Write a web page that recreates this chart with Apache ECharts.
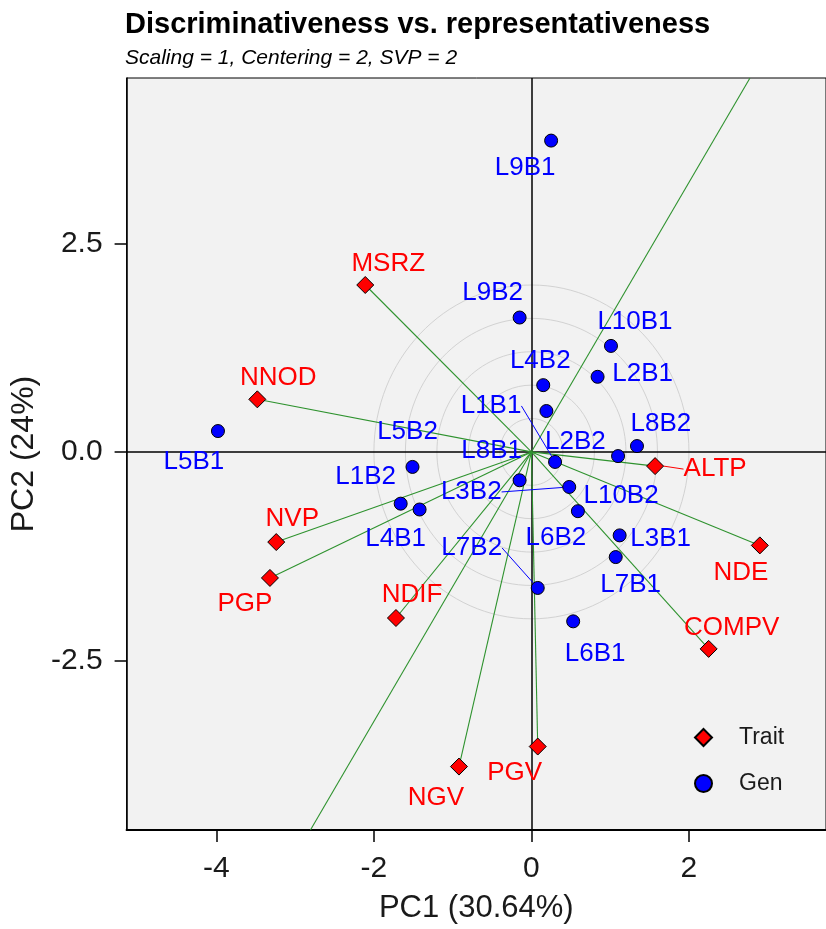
<!DOCTYPE html>
<html><head><meta charset="utf-8">
<script src="https://cdn.jsdelivr.net/npm/echarts@6/dist/echarts.min.js"></script>
<style>html,body{margin:0;padding:0;background:#fff}#c{width:826px;height:929px}</style>
</head><body><div id="c"></div>
<script>
// ---- data ----
const traitNames = ['MSRZ','NNOD','NVP','PGP','NDIF','NGV','PGV','ALTP','NDE','COMPV'];
const traitPC1   = [-2.11,-3.48,-3.24,-3.32,-1.72,-0.92,0.08,1.57,2.90,2.25];
const traitPC2   = [ 2.00, 0.63,-1.08,-1.51,-1.99,-3.77,-3.53,-0.17,-1.12,-2.36];

const genNames = ['L9B1','L9B2','L10B1','L2B1','L4B2','L1B1','L2B2','L8B2','L10B2','L5B1',
                  'L5B2','L1B2','L4B1','L8B1','L3B2','L6B2','L3B1','L7B1','L7B2','L6B1'];
const genPC1   = [0.25,-0.15,1.01,0.84,0.15,0.30,0.19,1.34,1.10,-3.98,
                  -1.51,-1.66,-1.42,-0.15,0.48,0.59,1.12,1.07,0.08,0.53];
const genPC2   = [3.73,1.61,1.27,0.90,0.80,-0.12,0.49,0.07,-0.05,0.25,
                  -0.18,-0.62,-0.69,-0.34,-0.42,-0.71,-1.00,-1.26,-1.63,-2.03];

const xTicks = [-4,-2,0,2];
const yTicks = [-2.5,0,2.5];
const circleRadii = [0.4,0.8,1.2,1.6,2.0];
const titleText = 'Discriminativeness vs. representativeness';
const subtitleText = 'Scaling = 1, Centering = 2, SVP = 2';
const xTitle = 'PC1 (30.64%)';
const yTitle = 'PC2 (24%)';

// ---- label placement (pixel offsets from the marker, styling only) ----
const traitLabelOffset = {
  MSRZ:[23,-21], NNOD:[21,-22], NVP:[16,-23], PGP:[-25,26], NDIF:[16,-23],
  NGV:[-23,31], PGV:[-23,26], ALTP:[60,3], NDE:[-19,27], COMPV:[23,-21]
};
const genLabelOffset = {
  L9B1:[-26,27], L9B2:[-27,-25], L10B1:[24,-24], L2B1:[45,-3], L4B2:[-3,-24],
  L1B1:[-64,-56], L2B2:[29,31], L8B2:[24,-22], L10B2:[3,40], L5B1:[-24,31],
  L5B2:[-5,-35], L1B2:[-35,-27], L4B1:[-24,29], L8B1:[-28,-29], L3B2:[-98,5],
  L6B2:[-22,27], L3B1:[41,3], L7B1:[15,28], L7B2:[-66,-40], L6B1:[22,32]
};
const traitGuide = ['ALTP'];
const genGuide = ['L1B1','L3B2','L7B2'];

const X_MIN = -5.14, X_MAX = 3.74, Y_MIN = -4.53, Y_MAX = 4.48;
const FONT = '"Liberation Sans", Arial, sans-serif';
const GREEN = '#2e922e';

// average environment axis direction from the trait means
const mx = traitPC1.reduce((a,b)=>a+b,0)/traitPC1.length;
const my = traitPC2.reduce((a,b)=>a+b,0)/traitPC2.length;
function reach(dx, dy){
  const tx = dx > 0 ? X_MAX/dx : X_MIN/dx;
  const ty = dy > 0 ? Y_MAX/dy : Y_MIN/dy;
  return Math.min(tx, ty);
}
const tPos = reach(mx, my), tNeg = reach(-mx, -my);
const aeaLine = [[mx*tPos, my*tPos], [-mx*tNeg, -my*tNeg]];

const chart = echarts.init(document.getElementById('c'), null, {renderer:'canvas'});
chart.setOption({
  animation: false,
  textStyle: {fontFamily: FONT},
  title: [
    {text: titleText, left: 125, top: 10, padding: 0,
     textStyle: {fontFamily: FONT, fontSize: 29, fontWeight: 'bold', color: '#000'}},
    {text: subtitleText, left: 125, top: 48, padding: 0,
     textStyle: {fontFamily: FONT, fontSize: 21, fontWeight: 'normal', fontStyle: 'italic', color: '#000'}}
  ],
  legend: {
    data: ['Trait','Gen'], orient: 'vertical', left: 694, top: 726, padding: 0,
    itemWidth: 17, itemHeight: 17, itemGap: 23, selectedMode: false,
    textStyle: {fontFamily: FONT, fontSize: 23, color: '#1a1a1a', lineHeight: 23, padding: [0,0,0,22]}
  },
  grid: {left: 125, right: -4, top: 78, bottom: 96.5, show: true,
         backgroundColor: '#F2F2F2', borderColor: '#000', borderWidth: 1},
  xAxis: {
    type: 'value', min: X_MIN, max: X_MAX, position: 'bottom',
    axisLine: {show: true, onZero: false, lineStyle: {color: '#000', width: 2}},
    axisTick: {show: true, length: 12, customValues: xTicks, lineStyle: {color: '#000', width: 1.5}},
    axisLabel: {customValues: xTicks, margin: 24, fontSize: 30, color: '#1a1a1a', fontFamily: FONT,
                formatter: v => String(v)},
    splitLine: {show: false},
    name: xTitle, nameLocation: 'middle', nameGap: 63,
    nameTextStyle: {fontSize: 31, color: '#1a1a1a', fontFamily: FONT}
  },
  yAxis: {
    type: 'value', min: Y_MIN, max: Y_MAX,
    axisLine: {show: true, onZero: false, lineStyle: {color: '#000', width: 1.5}},
    axisTick: {show: true, length: 12, customValues: yTicks, lineStyle: {color: '#000', width: 1.5}},
    axisLabel: {customValues: yTicks, margin: 24, fontSize: 30, color: '#1a1a1a', fontFamily: FONT,
                formatter: v => v.toFixed(1)},
    splitLine: {show: false},
    name: yTitle, nameLocation: 'middle', nameGap: 81,
    nameTextStyle: {fontSize: 32, color: '#1a1a1a', fontFamily: FONT}
  },
  series: [
    { // concentric circles
      type: 'custom', silent: true, z: 1,
      data: circleRadii.map(r => [0, 0, r]),
      encode: {x: 0, y: 1},
      renderItem: (params, api) => {
        const r = api.value(2);
        const c = api.coord([0, 0]);
        const rx = api.size([r, 0])[0];
        const ry = api.size([0, r])[1];
        return {type: 'ellipse', shape: {cx: c[0], cy: c[1], rx: rx, ry: ry},
                style: {fill: 'none', stroke: '#d2d2d2', lineWidth: 1}};
      }
    },
    { // zero lines
      type: 'lines', coordinateSystem: 'cartesian2d', silent: true, z: 2,
      data: [{coords: [[X_MIN, 0], [X_MAX, 0]]}, {coords: [[0, Y_MIN], [0, Y_MAX]]}],
      lineStyle: {color: '#000', width: 1.5, opacity: 1}
    },
    { // trait vectors and average environment axis
      type: 'lines', coordinateSystem: 'cartesian2d', silent: true, z: 3,
      data: traitNames.map((n, i) => ({coords: [[0, 0], [traitPC1[i], traitPC2[i]]]}))
              .concat([{coords: aeaLine}]),
      lineStyle: {color: GREEN, width: 1.1, opacity: 1}
    },
    {
      name: 'Trait', type: 'scatter', symbol: 'diamond', symbolSize: 17, z: 5,
      data: traitNames.map((n, i) => ({
        name: n, value: [traitPC1[i], traitPC2[i]],
        labelLine: {show: traitGuide.indexOf(n) >= 0}
      })),
      itemStyle: {color: '#FF0000', borderColor: '#000', borderWidth: 1, opacity: 1},
      label: {show: true, position: 'inside', formatter: '{b}', color: '#FF0000',
              fontSize: 26, fontFamily: FONT},
      labelLine: {show: false, length2: 0, lineStyle: {color: '#FF0000', width: 1}},
      labelLayout: p => {
        const o = traitLabelOffset[traitNames[p.dataIndex]];
        return {dx: o[0], dy: o[1]};
      },
      emphasis: {disabled: true}
    },
    {
      name: 'Gen', type: 'scatter', symbol: 'circle', symbolSize: 13, z: 5,
      data: genNames.map((n, i) => ({
        name: n, value: [genPC1[i], genPC2[i]],
        labelLine: {show: genGuide.indexOf(n) >= 0}
      })),
      itemStyle: {color: '#0000FF', borderColor: '#000', borderWidth: 1, opacity: 1},
      label: {show: true, position: 'inside', formatter: '{b}', color: '#0000FF',
              fontSize: 26, fontFamily: FONT},
      labelLine: {show: false, length2: 0, lineStyle: {color: '#0000FF', width: 1}},
      labelLayout: p => {
        const o = genLabelOffset[genNames[p.dataIndex]];
        return {dx: o[0], dy: o[1]};
      },
      emphasis: {disabled: true}
    }
  ]
});
</script>
</body></html>
